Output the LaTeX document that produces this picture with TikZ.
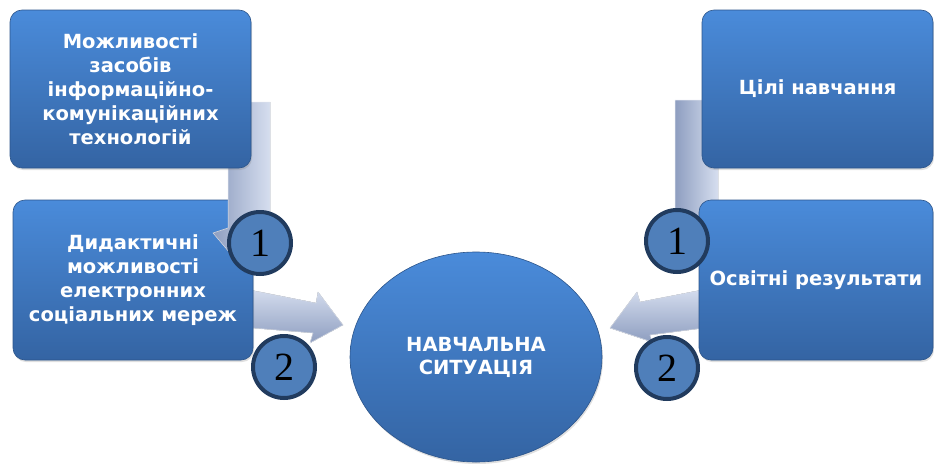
\documentclass[tikz,border=0pt]{standalone}
\usepackage{fontspec}
\setmainfont{DejaVu Sans}
\newfontfamily\numfont{Liberation Serif}
\usepackage{tikz}
\usetikzlibrary{calc}
\usetikzlibrary{shapes.geometric,shadows}
\definecolor{BoxTop}{HTML}{4A8BDA}
\definecolor{BoxBot}{HTML}{3464A3}
\definecolor{NumFill}{HTML}{4F7FBA}
\definecolor{NumLine}{HTML}{213B5E}
\definecolor{ArrLight}{HTML}{D6DEEF}
\definecolor{ArrDark}{HTML}{8E9EC0}
\tikzset{%Global config
	x=1pt, y=-1pt,
	%Styles
	Box/.style={
		rounded corners=12pt,
		top color=BoxTop,
		bottom color=BoxBot,
		draw=BoxBot!85!black,
		line width=0.6pt,
		inner sep=0pt,
		text=white,
		align=center,
		font=\fontsize{19.5}{24}\selectfont\bfseries,
		drop shadow={shadow xshift=1pt, shadow yshift=-2pt, opacity=0.25},
	},
	Situation/.style={
		Box,
		ellipse,
		font=\fontsize{19.5}{23}\selectfont\bfseries,
	},
	Num/.style={
		circle,
		minimum size=62pt,
		line width=4pt,
		fill=NumFill,
		draw=NumLine,
		inner sep=0pt,
		font=\numfont\fontsize{40}{40}\selectfont,
	},
	ArrowV/.style={
		left color=ArrDark,
		right color=ArrLight,
		draw=white!70!ArrDark,
		line width=0.5pt,
	},
	ArrowH/.style={
		top color=ArrLight,
		bottom color=ArrDark,
		draw=white!70!ArrDark,
		line width=0.5pt,
	}
}

\begin{document}
\begin{tikzpicture}
		\useasboundingbox (0,0) rectangle (934,463);
		% Centres of boxes and numbers
		\path (130.5,89) coordinate (plt) (133,280) coordinate (plb)
		      (817.5,89) coordinate (prt) (816,280) coordinate (prb)
		      (260,243) coordinate (pnl1) (284,367) coordinate (pnl2)
		      (677,241) coordinate (pnr1) (667,368) coordinate (pnr2);
		
		% Arrows behind the boxes
		\fill[ArrowV] ($(prt)+(-142.5,11)$) -- ($(prt)+(-99.5,11)$) -- ($(prt)+(-99.5,140)$)
			-- ($(pnr1)+(18,20)$) -- ($(pnr1)+(-2,-6)$) -- cycle;
		\fill[ArrowH] ($(plb)+(107,8)$) -- ($(plb)+(183,23)$) -- ($(plb)+(185,12)$)
			-- ($(plb)+(210,45)$) -- ($(plb)+(177,63)$) -- ($(plb)+(180,53)$) -- ($(plb)+(107,47)$) -- cycle;
		\fill[ArrowH] ($(prb)+(-104,8)$) -- ($(prb)+(-176,22)$) -- ($(prb)+(-179,12)$)
			-- ($(prb)+(-206,48)$) -- ($(prb)+(-164,62)$) -- ($(prb)+(-166,55)$) -- ($(prb)+(-104,47)$) -- cycle;
		
		% Boxes
		\node[Box, minimum width=240pt, minimum height=160pt] (lb) at (plb)
			{Дидактичні\\можливості\\електронних\\соціальних мереж};
		\fill[ArrowV] ($(plt)+(97.5,13)$) -- ($(plt)+(139.5,13)$) -- ($(plt)+(139.5,136)$)
			-- ($(pnl1)+(-20,22)$) -- ($(pnl1)+(-47,-10)$) -- ($(pnl1)+(-32,-15)$) -- cycle;
		\node[Box, minimum width=241pt, minimum height=158pt] (lt) at (plt)
			{Можливості\\засобів\\інформаційно-\\комунікаційних\\технологій};
		\node[Box, minimum width=231pt, minimum height=158pt] (rt) at (prt) {Цілі навчання};
		\node[Box, minimum width=234pt, minimum height=160pt] (rb) at (prb) {Освітні результати};
		\node[Situation, minimum width=252pt, minimum height=210pt] (sit) at (476,357)
			{НАВЧАЛЬНА\\СИТУАЦІЯ};
		
		% Numbers
		\node[Num] (nl1) at (pnl1) {1};
		\node[Num] (nl2) at (pnl2) {2};
		\node[Num] (nr1) at (pnr1) {1};
		\node[Num] (nr2) at (pnr2) {2};
	\end{tikzpicture}
\end{document}
